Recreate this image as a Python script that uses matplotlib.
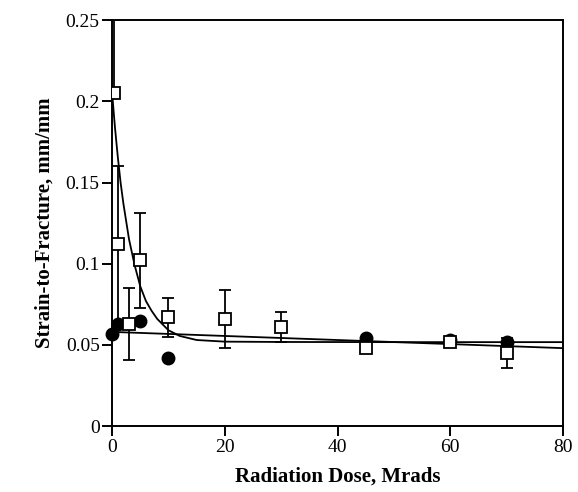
import numpy as np
import matplotlib
matplotlib.use('Agg')
from matplotlib import pyplot as plt

plt.rcParams['font.family'] = ['Liberation Serif', 'DejaVu Serif']

# Open squares: mean strain-to-fracture with error bars
sq_dose = [0.3, 1, 3, 5, 10, 20, 30, 45, 60, 70]
sq_strain = [0.205, 0.112, 0.063, 0.102, 0.067, 0.066, 0.061, 0.048, 0.052, 0.045]
sq_err_lo = [0.0, 0.048, 0.022, 0.029, 0.012, 0.018, 0.009, 0.003, 0.003, 0.009]
sq_err_hi = [0.045, 0.048, 0.022, 0.029, 0.012, 0.018, 0.009, 0.003, 0.003, 0.009]

# Filled circles: second sample set
ci_dose = [0, 1, 5, 10, 45, 60, 70]
ci_strain = [0.057, 0.063, 0.065, 0.042, 0.054, 0.053, 0.052]

# Decay curve through the squares
fit_dose = [0, 0.5, 1, 1.5, 2, 3, 4, 5, 6, 7, 8, 10, 12, 15, 20, 30, 50, 80]
fit_strain = [0.205, 0.184, 0.166, 0.150, 0.137, 0.115, 0.099, 0.086, 0.077,
              0.071, 0.066, 0.059, 0.0555, 0.053, 0.052, 0.0518, 0.0517, 0.0517]

# Straight line through the circles
lin_dose = [0, 80]
lin_strain = [0.058, 0.048]

fig = plt.figure(figsize=(5.78, 4.92), dpi=100)
ax = fig.add_axes([0.194, 0.134, 0.780, 0.825])

ax.plot(fit_dose, fit_strain, color='black', lw=1.3, zorder=2)
ax.plot(lin_dose, lin_strain, color='black', lw=1.3, zorder=2)

ax.errorbar(sq_dose, sq_strain, yerr=[sq_err_lo, sq_err_hi], fmt='none',
            ecolor='black', elinewidth=1.3, capsize=4.5, capthick=1.3, zorder=3)
ax.plot(ci_dose, ci_strain, 'o', color='black', ms=9, zorder=4, clip_on=False)
ax.plot(sq_dose, sq_strain, 's', mfc='white', mec='black', mew=1.3, ms=8.5, zorder=5)

ax.set_xlim(0, 80)
ax.set_ylim(0, 0.25)
ax.set_xticks([0, 20, 40, 60, 80])
ax.set_yticks([0, 0.05, 0.1, 0.15, 0.2, 0.25])
ax.set_yticklabels(['0', '0.05', '0.1', '0.15', '0.2', '0.25'])
ax.tick_params(direction='out', length=7, width=1.4, labelsize=14, pad=2)

for s in ax.spines.values():
    s.set_linewidth(1.4)

ax.set_xlabel('Radiation Dose, Mrads', fontsize=15, fontweight='bold', labelpad=8)
ax.set_ylabel('Strain-to-Fracture, mm/mm', fontsize=15, fontweight='bold', labelpad=8)

fig.savefig('out.png', dpi=100)
